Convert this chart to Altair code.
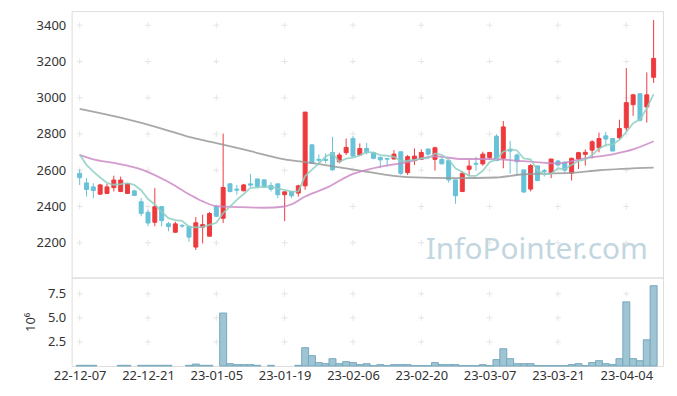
import altair as alt
import pandas as pd
import itertools

# ---- data ----
tick_dates = ["22-12-07", "22-12-21", "23-01-05", "23-01-19", "23-02-06",
              "23-02-20", "23-03-07", "23-03-21", "23-04-04"]
tick_index = [0, 10, 20, 30, 40, 50, 60, 70, 80]

opens = [2583, 2530, 2508, 2468, 2472, 2504, 2483, 2472, 2486, 2426,
         2368, 2313, 2399, 2305, 2258, 2295, 2291, 2176, 2286, 2236,
         2401, 2335, 2525, 2496, 2487, 2525, 2552, 2547, 2516, 2525,
         2465, 2483, 2474, 2514, 2740, 2660, 2660, 2698, 2647, 2697,
         2775, 2684, 2720, 2698, 2671, 2665, 2662, 2702, 2587, 2653,
         2660, 2717, 2660, 2660, 2653, 2547, 2483, 2605, 2638, 2635,
         2671, 2788, 2666, 2711, 2684, 2602, 2496, 2624, 2598, 2587,
         2651, 2644, 2584, 2662, 2688, 2711, 2724, 2790, 2775, 2779,
         2834, 2962, 3022, 2949, 3113]
highs = [2605, 2556, 2528, 2525, 2525, 2570, 2565, 2527, 2492, 2446,
         2382, 2501, 2402, 2315, 2316, 2304, 2291, 2342, 2355, 2370,
         2401, 2802, 2529, 2519, 2525, 2580, 2552, 2547, 2534, 2525,
         2481, 2483, 2520, 2921, 2744, 2687, 2693, 2784, 2697, 2775,
         2788, 2748, 2751, 2702, 2675, 2666, 2711, 2702, 2684, 2720,
         2715, 2720, 2730, 2675, 2656, 2547, 2596, 2656, 2675, 2702,
         2702, 2799, 2872, 2762, 2693, 2602, 2635, 2624, 2607, 2662,
         2657, 2648, 2669, 2702, 2715, 2766, 2808, 2812, 2775, 2879,
         3164, 3022, 3022, 3140, 3429]
lows = [2519, 2455, 2446, 2464, 2470, 2483, 2479, 2470, 2457, 2346,
        2291, 2291, 2291, 2263, 2254, 2282, 2205, 2160, 2196, 2236,
        2342, 2309, 2477, 2465, 2483, 2507, 2507, 2503, 2483, 2446,
        2319, 2446, 2455, 2492, 2635, 2629, 2638, 2598, 2638, 2684,
        2675, 2678, 2687, 2660, 2611, 2620, 2660, 2574, 2574, 2629,
        2656, 2680, 2598, 2634, 2532, 2415, 2479, 2570, 2598, 2625,
        2656, 2653, 2611, 2580, 2574, 2474, 2483, 2543, 2565, 2556,
        2620, 2587, 2543, 2607, 2626, 2666, 2699, 2730, 2706, 2772,
        2815, 2900, 2870, 2863, 3082]
closes = [2559, 2494, 2488, 2519, 2508, 2546, 2546, 2525, 2461, 2362,
          2309, 2399, 2322, 2289, 2304, 2292, 2231, 2310, 2300, 2361,
          2346, 2505, 2483, 2490, 2519, 2518, 2510, 2507, 2496, 2465,
          2481, 2459, 2514, 2921, 2638, 2655, 2654, 2602, 2684, 2726,
          2678, 2720, 2697, 2666, 2657, 2661, 2689, 2583, 2675, 2678,
          2698, 2689, 2724, 2635, 2547, 2459, 2583, 2623, 2633, 2689,
          2698, 2653, 2839, 2706, 2647, 2480, 2626, 2543, 2593, 2662,
          2629, 2600, 2666, 2697, 2699, 2757, 2775, 2772, 2706, 2830,
          2973, 3016, 2876, 3016, 3217]
volume_m = [0.07, 0.07, 0.07, 0, 0, 0, 0.07, 0.07, 0, 0.07,
            0.07, 0.07, 0.07, 0.07, 0, 0, 0.07, 0.2, 0.07, 0.07,
            0, 5.5, 0.24, 0.14, 0.14, 0.14, 0.07, 0, 0.07, 0,
            0, 0, 0.07, 1.9, 1.07, 0.35, 0.24, 0.76, 0.24, 0.45,
            0.35, 0.14, 0.24, 0.03, 0.14, 0.03, 0.14, 0.14, 0.14, 0.03,
            0.03, 0.03, 0.35, 0.14, 0.14, 0.14, 0.03, 0.03, 0.03, 0.14,
            0.03, 0.66, 1.79, 0.76, 0.24, 0.24, 0.24, 0.03, 0.03, 0.03,
            0.03, 0.03, 0.14, 0.24, 0.03, 0.35, 0.55, 0.24, 0.14, 0.76,
            6.66, 0.76, 0.55, 2.72, 8.34]
ma5 = [2687, 2630, 2592, 2560, 2530, 2520, 2524, 2529, 2519, 2490,
       2441, 2411, 2371, 2336, 2325, 2321, 2288, 2285, 2287, 2299,
       2310, 2364, 2399, 2437, 2469, 2503, 2504, 2509, 2510, 2499,
       2492, 2482, 2483, 2568, 2603, 2637, 2676, 2694, 2647, 2664,
       2669, 2682, 2701, 2697, 2684, 2680, 2674, 2651, 2653, 2657,
       2665, 2665, 2693, 2685, 2659, 2611, 2590, 2569, 2569, 2597,
       2645, 2659, 2702, 2717, 2709, 2665, 2660, 2600, 2578, 2581,
       2611, 2605, 2630, 2651, 2658, 2684, 2719, 2740, 2742, 2768,
       2811, 2859, 2880, 2942, 3020]
ma20_idx = [0, 2, 5, 9, 13, 16, 18, 20, 23, 27, 30, 31, 33, 36, 40, 43,
            48, 52, 56, 60, 65, 70, 74, 78, 81, 84]
ma20_val = [2685, 2660, 2640, 2605, 2535, 2468, 2428, 2402, 2397, 2393,
            2400, 2412, 2455, 2501, 2580, 2611, 2645, 2676, 2662, 2662,
            2650, 2638, 2666, 2688, 2715, 2760]
ma60_idx = [0, 6, 12, 16, 20, 25, 30, 33, 41, 48, 55, 61, 65, 72, 76, 84]
ma60_val = [2939, 2890, 2830, 2784, 2750, 2705, 2660, 2645, 2598, 2562,
            2557, 2560, 2578, 2585, 2600, 2615]
price_ticks = [2200, 2400, 2600, 2800, 3000, 3200, 3400]
vol_ticks = [2.5, 5.0, 7.5]

RED = "#ee3a3d"
BLUE = "#68c2d8"
FONT = "Noto Sans"
TXT = "#333333"
W = 595

df = pd.DataFrame({"i": list(range(len(opens))), "open": opens, "high": highs,
                   "low": lows, "close": closes, "vol": volume_m, "ma5": ma5})
ma20 = pd.DataFrame({"i": ma20_idx, "v": ma20_val})
ma60 = pd.DataFrame({"i": ma60_idx, "v": ma60_val})
cross_main = pd.DataFrame(list(itertools.product(tick_index, price_ticks)), columns=["i", "v"])
cross_vol = pd.DataFrame(list(itertools.product(tick_index, vol_ticks)), columns=["i", "v"])

xscale = alt.Scale(domain=[-0.45, 84.65], nice=False, zero=False)
yscale = alt.Scale(domain=[2008, 3478], nice=False, zero=False)
vscale = alt.Scale(domain=[0, 9.19], nice=False)

updown = alt.condition("datum.close >= datum.open", alt.value(RED), alt.value(BLUE))

yaxis_main = alt.Axis(values=price_ticks, format="d", ticks=False, domain=False, grid=False,
                      labelFont=FONT, labelFontSize=13, labelColor=TXT, labelPadding=6, title=None)

base = alt.Chart(df)
wick = base.mark_rule(strokeWidth=1).encode(
    x=alt.X("i:Q", scale=xscale, axis=None),
    y=alt.Y("low:Q", scale=yscale, axis=yaxis_main),
    y2="high:Q",
    color=updown)
body = base.mark_bar(size=4, strokeWidth=1).encode(
    x=alt.X("i:Q", scale=xscale, axis=None),
    y=alt.Y("open:Q", scale=yscale),
    y2="close:Q",
    color=updown, stroke=updown)

def ma_line(data, field, color, interp):
    return alt.Chart(data).mark_line(color=color, strokeWidth=1.8, opacity=0.85,
                                     interpolate=interp).encode(
        x=alt.X("i:Q", scale=xscale, axis=None),
        y=alt.Y(f"{field}:Q", scale=yscale))

l60 = ma_line(ma60, "v", "#999999", "monotone")
l20 = ma_line(ma20, "v", "#cc8ac6", "monotone")
l5 = ma_line(df, "ma5", "#8fcfc3", "linear")

cross_path = "M-1,0L1,0M0,-1L0,1"
cm = alt.Chart(cross_main).mark_point(shape=cross_path, size=36, stroke="#dcdcdc",
                                      strokeWidth=1, filled=False).encode(
    x=alt.X("i:Q", scale=xscale, axis=None), y=alt.Y("v:Q", scale=yscale))

wm = alt.Chart(pd.DataFrame({"t": ["InfoPointer.com"]})).mark_text(
    font=FONT, fontSize=30, color="#c2d6e0", align="center", baseline="middle").encode(
    text="t:N", x=alt.value(468), y=alt.value(240))

top = alt.layer(cm, wm, wick, body, l60, l20, l5).properties(width=W, height=268)

label_expr = "[" + ",".join(f"'{d}'" for d in tick_dates) + "][round(datum.value/10)]"
vbars = alt.Chart(df).transform_filter("datum.vol > 0").mark_bar(
    size=7, color="#9fc4d4", stroke="#76a8bd", strokeWidth=1, orient="vertical").encode(
    x=alt.X("i:Q", scale=xscale,
            axis=alt.Axis(values=tick_index, labelExpr=label_expr, ticks=False, domain=False,
                          grid=False, labelFont=FONT, labelFontSize=13, labelColor=TXT,
                          labelPadding=4, title=None, labelOverlap=False)),
    y=alt.Y("vol:Q", scale=vscale,
            axis=alt.Axis(values=vol_ticks, format=".1f", ticks=False, domain=False, grid=False,
                          labelFont=FONT, labelFontSize=13, labelColor=TXT, labelPadding=6,
                          title="10⁶", titleFont=FONT, titleFontSize=13,
                          titleFontWeight="normal", titleColor=TXT, titlePadding=10)))
cv = alt.Chart(cross_vol).mark_point(shape=cross_path, size=36, stroke="#dcdcdc",
                                     strokeWidth=1, filled=False).encode(
    x=alt.X("i:Q", scale=xscale), y=alt.Y("v:Q", scale=vscale))
bottom = alt.layer(cv, vbars).properties(width=W, height=89)

chart = alt.vconcat(top, bottom, spacing=0, bounds="flush").properties(
    padding={"left": 16, "top": 1, "right": 5, "bottom": 5}
).configure_view(stroke="#e6e6e6", strokeWidth=1).configure(background="white")

chart.save("out.html", embed_options={"renderer": "svg", "actions": False})
